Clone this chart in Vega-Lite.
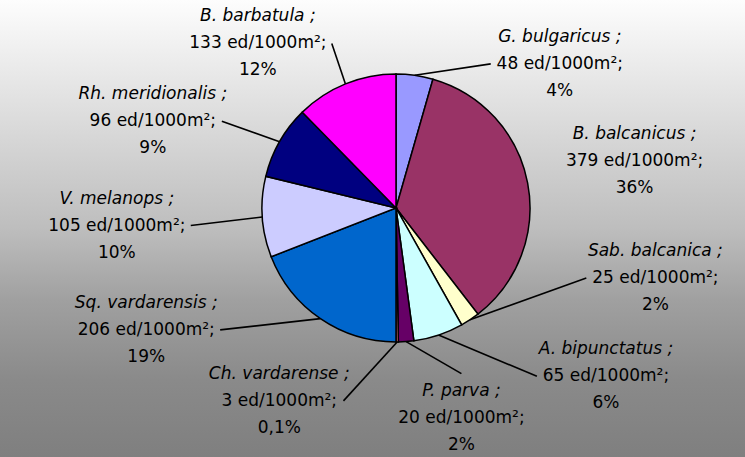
{
  "$schema": "https://vega.github.io/schema/vega-lite/v6.json",
  "width": 792,
  "height": 498,
  "autosize": {"type": "none"},
  "padding": {"left": 0, "top": -41, "right": -47, "bottom": 0},
  "background": "#7f7f7f",
  "view": {
    "stroke": null,
    "fill": {
      "gradient": "linear",
      "x1": 0, "y1": 0, "x2": 0, "y2": 1,
      "stops": [
        {"offset": 0, "color": "#ffffff"},
        {"offset": 0.082, "color": "#fdfdfd"},
        {"offset": 0.544, "color": "#bdbdbd"},
        {"offset": 0.685, "color": "#a0a0a0"},
        {"offset": 0.845, "color": "#8a8a8a"},
        {"offset": 1, "color": "#7f7f7f"}
      ]
    }
  },
  "data": {
    "values": [
      {"species": "G. bulgaricus", "name": "G. bulgaricus ;", "value": 48, "dens": "48 ed/1000m²;", "pct": "4%"},
      {"species": "B. balcanicus", "name": "B. balcanicus ;", "value": 379, "dens": "379 ed/1000m²;", "pct": "36%"},
      {"species": "Sab. balcanica", "name": "Sab. balcanica ;", "value": 25, "dens": "25 ed/1000m²;", "pct": "2%"},
      {"species": "A. bipunctatus", "name": "A. bipunctatus ;", "value": 65, "dens": "65 ed/1000m²;", "pct": "6%"},
      {"species": "P. parva", "name": "P. parva ;", "value": 20, "dens": "20 ed/1000m²;", "pct": "2%"},
      {"species": "Ch. vardarense", "name": "Ch. vardarense ;", "value": 3, "dens": "3 ed/1000m²;", "pct": "0,1%"},
      {"species": "Sq. vardarensis", "name": "Sq. vardarensis ;", "value": 206, "dens": "206 ed/1000m²;", "pct": "19%"},
      {"species": "V. melanops", "name": "V. melanops ;", "value": 105, "dens": "105 ed/1000m²;", "pct": "10%"},
      {"species": "Rh. meridionalis", "name": "Rh. meridionalis ;", "value": 96, "dens": "96 ed/1000m²;", "pct": "9%"},
      {"species": "B. barbatula", "name": "B. barbatula ;", "value": 133, "dens": "133 ed/1000m²;", "pct": "12%"}
    ]
  },
  "transform": [{"window": [{"op": "row_number", "as": "idx"}]}],
  "layer": [
    {
      "transform": [
        {"joinaggregate": [{"op": "sum", "field": "value", "as": "total"}]},
        {"window": [{"op": "sum", "field": "value", "as": "cum"}], "sort": [{"field": "idx"}], "frame": [null, 0]},
        {"filter": "datum.idx != 2"}
      ],
      "mark": {"type": "rule", "color": "#000000", "strokeWidth": 1.6},
      "encoding": {
        "x": {"value": {"expr": "width/2 + 134*sin(2*PI*(datum.cum - datum.value/2)/datum.total)"}},
        "y": {"value": {"expr": "height/2 - 134*cos(2*PI*(datum.cum - datum.value/2)/datum.total)"}},
        "x2": {"value": {"expr": "width/2 + (262 - 12*sin((8+32.1*datum.idx)*PI/180) + 70*max(0, -cos((8+32.1*datum.idx)*PI/180)))*sin((8+32.1*datum.idx)*PI/180) + (abs(cos((8+32.1*datum.idx)*PI/180)) > 0.95 ? 0 : (sin((8+32.1*datum.idx)*PI/180) > 0 ? -1 : 1)*(length(datum.dens)*4.85 + 6))"}},
        "y2": {"value": {"expr": "height/2 - cos((8+32.1*datum.idx)*PI/180)*(192 + 15*max(0, -cos((8+32.1*datum.idx)*PI/180))) + 18*max(0, sin((8+32.1*datum.idx)*PI/180))*(1 - cos((8+32.1*datum.idx)*PI/180)) + (abs(cos((8+32.1*datum.idx)*PI/180)) > 0.95 ? -44 : 0)"}}
      }
    },
    {
      "mark": {"type": "arc", "outerRadius": 134, "stroke": "#000000", "strokeWidth": 1.5},
      "encoding": {
        "theta": {"field": "value", "type": "quantitative", "stack": true},
        "order": {"field": "idx", "type": "quantitative"},
        "color": {
          "field": "species",
          "type": "nominal",
          "legend": null,
          "scale": {
            "domain": ["G. bulgaricus", "B. balcanicus", "Sab. balcanica", "A. bipunctatus", "P. parva", "Ch. vardarense", "Sq. vardarensis", "V. melanops", "Rh. meridionalis", "B. barbatula"],
            "range": ["#9999FF", "#993366", "#FFFFCC", "#CCFFFF", "#660066", "#FF8080", "#0066CC", "#CCCCFF", "#000080", "#FF00FF"]
          }
        }
      }
    },
    {
      "mark": {"type": "text", "font": "DejaVu Sans", "fontSize": 17, "fontStyle": "italic", "color": "#000000",
        "radius": 0,
        "dx": {"expr": "(262 - 12*sin((8+32.1*datum.idx)*PI/180) + 70*max(0, -cos((8+32.1*datum.idx)*PI/180)))*sin((8+32.1*datum.idx)*PI/180)"},
        "dy": {"expr": "-cos((8+32.1*datum.idx)*PI/180)*(192 + 15*max(0, -cos((8+32.1*datum.idx)*PI/180))) + 18*max(0, sin((8+32.1*datum.idx)*PI/180))*(1 - cos((8+32.1*datum.idx)*PI/180)) - 27"}},
      "encoding": {
        "theta": {"field": "idx", "type": "quantitative", "stack": null},
        "text": {"field": "name", "type": "nominal"}
      }
    },
    {
      "mark": {"type": "text", "font": "DejaVu Sans", "fontSize": 17, "color": "#000000",
        "radius": 0,
        "dx": {"expr": "(262 - 12*sin((8+32.1*datum.idx)*PI/180) + 70*max(0, -cos((8+32.1*datum.idx)*PI/180)))*sin((8+32.1*datum.idx)*PI/180)"},
        "dy": {"expr": "-cos((8+32.1*datum.idx)*PI/180)*(192 + 15*max(0, -cos((8+32.1*datum.idx)*PI/180))) + 18*max(0, sin((8+32.1*datum.idx)*PI/180))*(1 - cos((8+32.1*datum.idx)*PI/180))"}},
      "encoding": {
        "theta": {"field": "idx", "type": "quantitative", "stack": null},
        "text": {"field": "dens", "type": "nominal"}
      }
    },
    {
      "mark": {"type": "text", "font": "DejaVu Sans", "fontSize": 17, "color": "#000000",
        "radius": 0,
        "dx": {"expr": "(262 - 12*sin((8+32.1*datum.idx)*PI/180) + 70*max(0, -cos((8+32.1*datum.idx)*PI/180)))*sin((8+32.1*datum.idx)*PI/180)"},
        "dy": {"expr": "-cos((8+32.1*datum.idx)*PI/180)*(192 + 15*max(0, -cos((8+32.1*datum.idx)*PI/180))) + 18*max(0, sin((8+32.1*datum.idx)*PI/180))*(1 - cos((8+32.1*datum.idx)*PI/180)) + 27"}},
      "encoding": {
        "theta": {"field": "idx", "type": "quantitative", "stack": null},
        "text": {"field": "pct", "type": "nominal"}
      }
    }
  ],
  "resolve": {"scale": {"theta": "independent"}}
}
